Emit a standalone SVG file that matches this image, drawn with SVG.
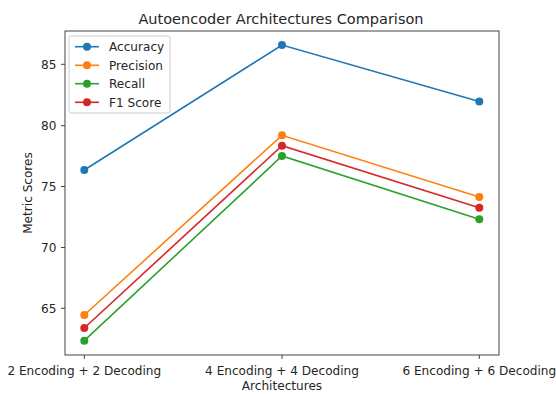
<svg xmlns="http://www.w3.org/2000/svg" width="556" height="394" viewBox="0 0 556 394">
<style>
text{font-family:"DejaVu Sans",sans-serif;fill:#262626}
.tick{font-size:12.1px}
.s{fill:none;stroke-width:1.6}
.ax{stroke:#444;stroke-width:1;fill:none}
</style>
<rect width="556" height="394" fill="#fff"/>
<text x="281" y="23.5" text-anchor="middle" font-size="14.5">Autoencoder Architectures Comparison</text>
<rect class="ax" x="65" y="31" width="434" height="324"/>
<g id="yticks" stroke="#444">
<line x1="61" y1="64.3" x2="65" y2="64.3"/><line x1="61" y1="125.7" x2="65" y2="125.7"/><line x1="61" y1="186.5" x2="65" y2="186.5"/><line x1="61" y1="247.5" x2="65" y2="247.5"/><line x1="61" y1="308.3" x2="65" y2="308.3"/>
<line x1="84.3" y1="355" x2="84.3" y2="359"/><line x1="282" y1="355" x2="282" y2="359"/><line x1="479.3" y1="355" x2="479.3" y2="359"/>
</g>
<g class="tick" text-anchor="end">
<text x="56.5" y="68.7">85</text><text x="56.5" y="130">80</text><text x="56.5" y="191">75</text><text x="56.5" y="252">70</text><text x="56.5" y="312.7">65</text>
</g>
<g class="tick" text-anchor="middle">
<text x="84.3" y="374.5">2 Encoding + 2 Decoding</text><text x="282" y="374.5">4 Encoding + 4 Decoding</text><text x="479.3" y="374.5">6 Encoding + 6 Decoding</text>
<text x="282" y="389.5">Architectures</text>
<text transform="translate(32,193) rotate(-90)">Metric Scores</text>
</g>
<g id="connectors">
<polyline class="s" stroke="#1f77b4" points="84.3,170 282,45 479.3,101.5"/>
<polyline class="s" stroke="#ff7f0e" points="84.3,315 282,135.3 479.3,197"/>
<polyline class="s" stroke="#2ca02c" points="84.3,340.7 282,156 479.3,219.3"/>
<polyline class="s" stroke="#d62728" points="84.3,328 282,145.7 479.3,207.7"/>
</g>
<g id="accuracy" fill="#1f77b4"><circle cx="84.3" cy="170" r="4"/><circle cx="282" cy="45" r="4"/><circle cx="479.3" cy="101.5" r="4"/></g>
<g id="precision" fill="#ff7f0e"><circle cx="84.3" cy="315" r="4"/><circle cx="282" cy="135.3" r="4"/><circle cx="479.3" cy="197" r="4"/></g>
<g id="recall" fill="#2ca02c"><circle cx="84.3" cy="340.7" r="4"/><circle cx="282" cy="156" r="4"/><circle cx="479.3" cy="219.3" r="4"/></g>
<g id="f1" fill="#d62728"><circle cx="84.3" cy="328" r="4"/><circle cx="282" cy="145.7" r="4"/><circle cx="479.3" cy="207.7" r="4"/></g>
<g id="legend">
<rect x="69" y="36" width="101" height="77" rx="2" fill="#fff" fill-opacity="0.8" stroke="#ccc"/>
<line x1="75" y1="46.7" x2="99" y2="46.7" stroke="#1f77b4" stroke-width="1.6"/><circle cx="87" cy="46.7" r="4" fill="#1f77b4"/>
<line x1="75" y1="65.3" x2="99" y2="65.3" stroke="#ff7f0e" stroke-width="1.6"/><circle cx="87" cy="65.3" r="4" fill="#ff7f0e"/>
<line x1="75" y1="83.7" x2="99" y2="83.7" stroke="#2ca02c" stroke-width="1.6"/><circle cx="87" cy="83.7" r="4" fill="#2ca02c"/>
<line x1="75" y1="102.3" x2="99" y2="102.3" stroke="#d62728" stroke-width="1.6"/><circle cx="87" cy="102.3" r="4" fill="#d62728"/>
<g class="tick"><text x="109" y="51">Accuracy</text><text x="109" y="69.6">Precision</text><text x="109" y="88">Recall</text><text x="109" y="106.6">F1 Score</text></g>
</g>
</svg>
